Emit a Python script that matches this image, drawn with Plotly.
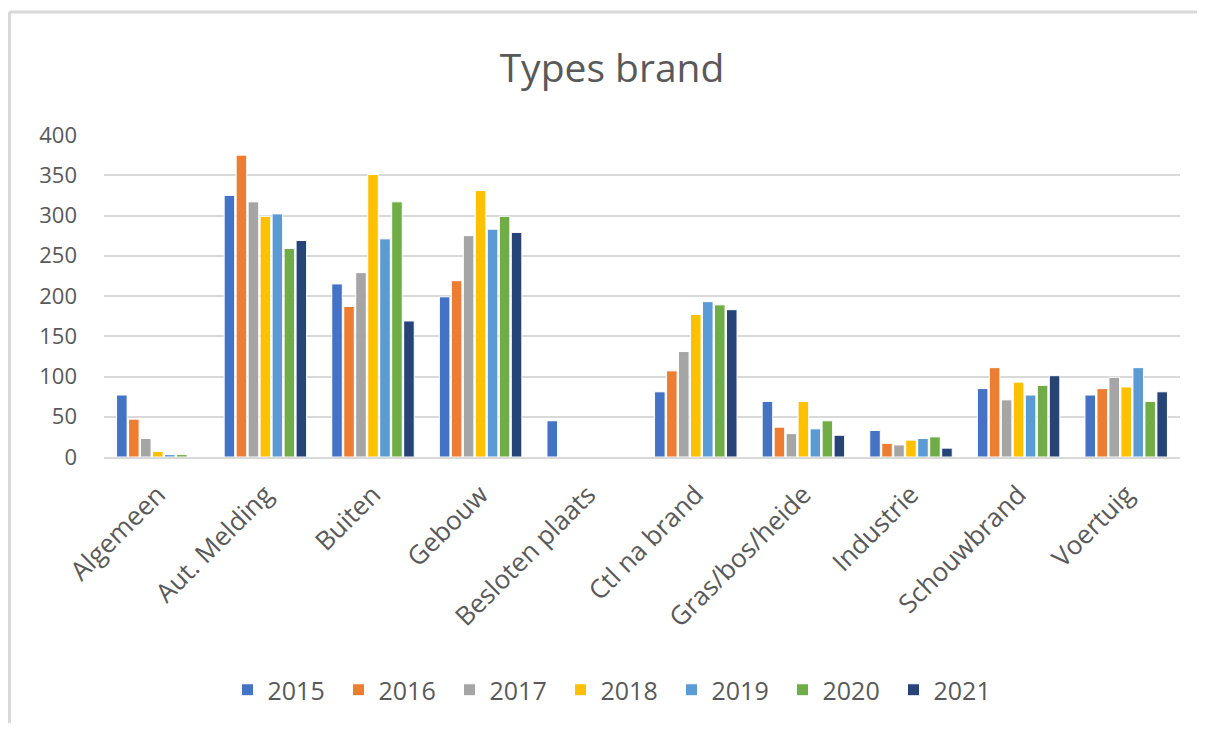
import plotly.graph_objects as go

categories = ["Algemeen", "Aut. Melding", "Buiten", "Gebouw", "Besloten plaats",
              "Ctl na brand", "Gras/bos/heide", "Industrie", "Schouwbrand", "Voertuig"]
years = ["2015", "2016", "2017", "2018", "2019", "2020", "2021"]

v2015 = [77, 325, 215, 199, 45, 81, 69, 33, 85, 77]
v2016 = [47, 375, 187, 219, 0, 107, 37, 17, 111, 85]
v2017 = [23, 317, 229, 275, 0, 131, 29, 15, 71, 99]
v2018 = [7, 299, 351, 331, 0, 177, 69, 21, 93, 87]
v2019 = [3, 302, 271, 283, 0, 193, 35, 23, 77, 111]
v2020 = [3, 259, 317, 299, 0, 189, 45, 25, 89, 69]
v2021 = [0, 269, 169, 279, 0, 183, 27, 11, 101, 81]

series = [v2015, v2016, v2017, v2018, v2019, v2020, v2021]
colors = ["#4472C4", "#ED7D31", "#A5A5A5", "#FFC000", "#5B9BD5", "#70AD47", "#264478"]

FONT = "Open Sans"
TXT = "#595959"

# page has an 8px body margin; figure coords = page coords - 8
L, T, PW, PH = 96, 127, 1076, 323
W, H = 1189, 715

fig = go.Figure()
for name, vals, col in zip(years, series, colors):
    fig.add_trace(go.Bar(
        x=categories, y=vals, name=name,
        marker=dict(color=col, line=dict(color="white", width=1)),
    ))

fig.update_layout(
    width=W, height=H,
    barmode="group", bargap=0.22, bargroupgap=0.12,
    paper_bgcolor="white", plot_bgcolor="white",
    margin=dict(l=L, r=W - L - PW, t=T, b=H - T - PH),
    font=dict(family=FONT, color=TXT, size=22),
    title=dict(text="Types brand", x=604 / W, xanchor="center", y=1 - 60 / H, yanchor="middle",
               font=dict(family=FONT, size=39, color=TXT)),
    legend=dict(orientation="h", x=0.5 - 26 / PW, xanchor="center", y=(T + PH - 682) / PH, yanchor="middle",
                font=dict(family=FONT, size=25, color=TXT),
                entrywidth=66, entrywidthmode="pixels", itemwidth=30),
    showlegend=True,
)
fig.update_yaxes(range=[0, 400], dtick=50, showgrid=True, gridcolor="#D9D9D9", gridwidth=2,
                 zeroline=False, showline=False, ticks="", ticklabelstandoff=26,
                 tickfont=dict(family=FONT, size=22, color=TXT))
fig.update_xaxes(showline=True, linecolor="#D9D9D9", linewidth=2, ticks="", tickangle=-45,
                 ticklabelstandoff=10,
                 tickfont=dict(family=FONT, size=26, color=TXT))

# outer chart border (top and left visible)
bx = (1.5 - L) / PW
by = (T + PH - 3.5) / PH
fig.add_shape(type="line", xref="paper", yref="paper",
              x0=bx, x1=1.05, y0=by, y1=by,
              line=dict(color="#D9D9D9", width=3))
fig.add_shape(type="line", xref="paper", yref="paper",
              x0=bx, x1=bx, y0=by, y1=(T + PH - H - 5) / PH,
              line=dict(color="#D9D9D9", width=3))

fig.write_html("out.html")
